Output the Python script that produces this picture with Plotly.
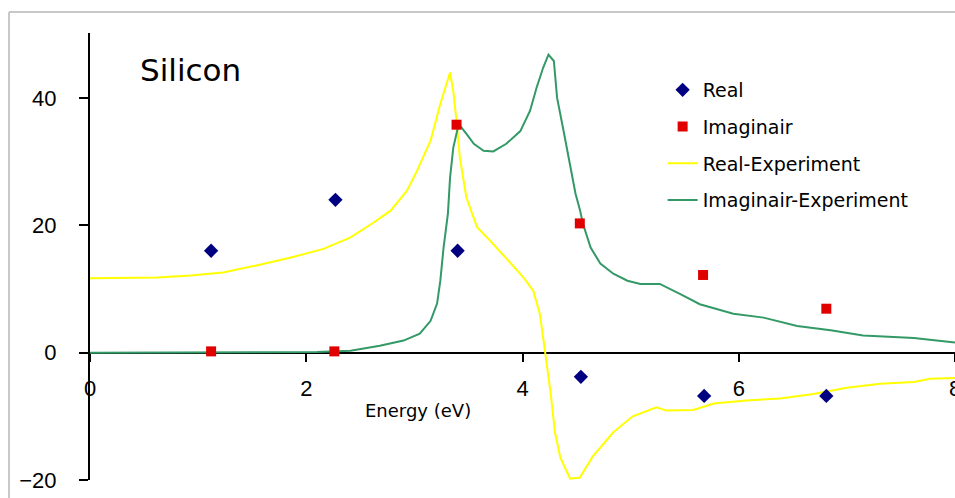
import plotly.graph_objects as go

# ---- data ----
real_x = [1.12, 2.27, 3.40, 4.54, 5.68, 6.81]
real_y = [16.0, 24.0, 16.0, -3.8, -6.8, -6.8]

imag_x = [1.12, 2.26, 3.39, 4.53, 5.67, 6.81]
imag_y = [0.2, 0.2, 35.8, 20.3, 12.2, 6.9]

real_exp_x = [0.0, 0.3, 0.62, 0.93, 1.23, 1.54, 1.85, 2.16, 2.41, 2.62, 2.78, 2.93,
              3.02, 3.15, 3.24, 3.33, 3.36, 3.39, 3.42, 3.48, 3.58, 3.70, 3.85, 4.01,
              4.10, 4.16, 4.21, 4.26, 4.30, 4.35, 4.44, 4.53, 4.65, 4.84, 5.02, 5.24,
              5.33, 5.58, 5.77, 6.07, 6.38, 6.69, 7.00, 7.31, 7.62, 7.77, 8.0]
real_exp_y = [11.7, 11.75, 11.8, 12.1, 12.6, 13.7, 14.9, 16.3, 18.1, 20.4, 22.3, 25.4,
              28.4, 33.3, 39.1, 44.0, 41.0, 36.4, 30.7, 24.4, 19.7, 17.6, 14.8, 11.8,
              9.7, 6.1, 0.0, -6.3, -12.5, -16.5, -19.8, -19.6, -16.3, -12.5, -10.0, -8.6,
              -9.1, -9.0, -8.0, -7.5, -7.2, -6.5, -5.5, -4.9, -4.6, -4.1, -4.0]

imag_exp_x = [0.0, 0.5, 1.0, 1.5, 2.0, 2.1, 2.41, 2.68, 2.90, 3.05, 3.15, 3.21, 3.24,
              3.27, 3.31, 3.33, 3.36, 3.41, 3.48, 3.55, 3.64, 3.73, 3.85, 3.98, 4.07,
              4.13, 4.19, 4.24, 4.29, 4.32, 4.38, 4.44, 4.49, 4.53, 4.56, 4.63, 4.72,
              4.84, 4.97, 5.09, 5.27, 5.46, 5.64, 5.95, 6.23, 6.54, 6.85, 7.15, 7.62, 8.0]
imag_exp_y = [0.0, 0.0, 0.0, 0.0, 0.0, 0.1, 0.3, 1.1, 1.9, 3.0, 5.0, 7.7, 11.3,
              16.5, 21.8, 27.5, 32.2, 35.9, 34.4, 32.8, 31.7, 31.6, 32.8, 34.8, 38.0,
              41.6, 44.7, 46.8, 45.8, 40.0, 34.8, 29.6, 25.0, 22.5, 20.2, 16.5, 14.0,
              12.4, 11.3, 10.8, 10.8, 9.2, 7.6, 6.1, 5.5, 4.2, 3.5, 2.7, 2.3, 1.6]

x_ticks = [0, 2, 4, 6, 8]
y_ticks = [-20, 0, 20, 40]
x_range = [0, 8.0]
y_range = [-20, 50.2]

fig = go.Figure()

fig.add_trace(go.Scatter(x=real_exp_x, y=real_exp_y, mode="lines", name="Real-Experiment",
                         line=dict(color="#ffff00", width=2), legendgroup="c", legendrank=3))
fig.add_trace(go.Scatter(x=imag_exp_x, y=imag_exp_y, mode="lines", name="Imaginair-Experiment",
                         line=dict(color="#339966", width=2), legendgroup="d", legendrank=4))
fig.add_trace(go.Scatter(x=real_x, y=real_y, mode="markers", name="Real",
                         marker=dict(symbol="diamond", size=11, color="#000080"),
                         legendgroup="a", legendrank=1))
fig.add_trace(go.Scatter(x=imag_x, y=imag_y, mode="markers", name="Imaginair",
                         marker=dict(symbol="square", size=10, color="#e00000"),
                         legendgroup="b", legendrank=2))

zero_pos = (0 - y_range[0]) / (y_range[1] - y_range[0])

fig.update_layout(
    width=955, height=498,
    margin=dict(l=90, r=0, t=33, b=18, autoexpand=False),
    paper_bgcolor="white", plot_bgcolor="white",
    font=dict(family="Liberation Sans, Arial", size=21, color="black"),
    xaxis=dict(range=x_range, tickvals=x_ticks, showgrid=False, zeroline=False,
               showline=True, linecolor="black", linewidth=2,
               ticks="outside", ticklen=8, tickwidth=2, tickcolor="black",
               anchor="free", position=zero_pos, layer="below traces",
               ticklabelstandoff=8, ticklabeloverflow="allow", automargin=False,
               tickfont=dict(family="Liberation Sans, Arial", size=22, color="black")),
    yaxis=dict(range=y_range, tickvals=y_ticks, showgrid=False, zeroline=False,
               showline=True, linecolor="black", linewidth=2,
               ticks="outside", ticklen=9, tickwidth=2, tickcolor="black",
               layer="below traces", ticklabelstandoff=18, automargin=False,
               tickfont=dict(family="Liberation Sans, Arial", size=22, color="black")),
    legend=dict(x=0.662, y=0.915, xanchor="left", yanchor="top",
                traceorder="grouped", tracegroupgap=9,
                bgcolor="rgba(0,0,0,0)",
                font=dict(family="DejaVu Sans", size=19, color="black")),
    showlegend=True,
)

fig.add_annotation(x=0.445, y=44.4, xref="x", yref="y", text="Silicon",
                   showarrow=False, xanchor="left", yanchor="middle",
                   font=dict(family="DejaVu Sans", size=31, color="black"))
fig.add_annotation(x=3.03, y=-9.1, xref="x", yref="y", text="Energy (eV)",
                   showarrow=False, xanchor="center", yanchor="middle",
                   font=dict(family="DejaVu Sans", size=18, color="black"))

# light grey outer frame (left and top edges visible in the reference)
fig.add_shape(type="line", xref="paper", yref="paper", x0=-0.0936, x1=-0.0936,
              y0=-0.2, y1=1.047, line=dict(color="#c8c8c8", width=2))
fig.add_shape(type="line", xref="paper", yref="paper", x0=-0.0936, x1=1.2,
              y0=1.047, y1=1.047, line=dict(color="#c8c8c8", width=2))

fig.write_html(
    "out.html",
    config={"displayModeBar": False},
    post_script="document.body.style.margin='0';document.body.style.overflow='hidden';",
)
